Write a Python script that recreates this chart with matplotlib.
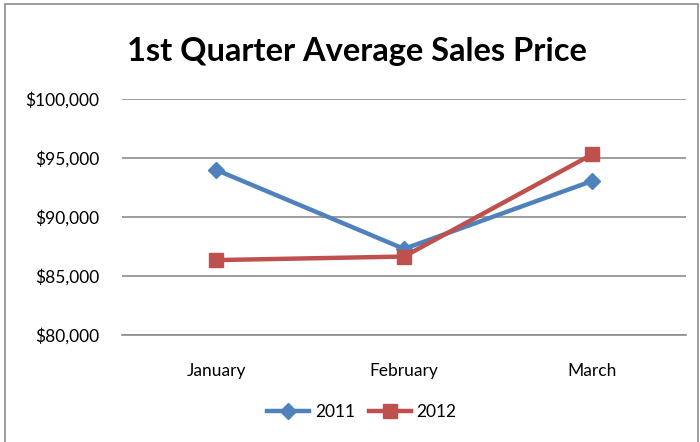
import matplotlib.pyplot as plt
from matplotlib.patches import Rectangle
from matplotlib.ticker import FuncFormatter

# Data
months = ["January", "February", "March"]
sales_2011 = [94000, 87300, 93050]
sales_2012 = [86350, 86650, 95300]
y_ticks = [80000, 85000, 90000, 95000, 100000]

plt.rcParams["font.family"] = ["Lato", "DejaVu Sans"]

fig = plt.figure(figsize=(7, 4.42), dpi=100)
ax = fig.add_axes([0.1743, 0.242, 0.8057, 0.534])

x = range(len(months))
ax.plot(x, sales_2011, color="#4F81BD", lw=3.2, marker="D", ms=8.5, label="2011")
ax.plot(x, sales_2012, color="#C0504D", lw=3.2, marker="s", ms=10, label="2012")

ax.set_xlim(-0.5, 2.5)
ax.set_ylim(80000, 100000)
ax.set_yticks(y_ticks)
ax.yaxis.set_major_formatter(FuncFormatter(lambda v, p: "${:,.0f}".format(v)))
ax.set_xticks(list(x))
ax.set_xticklabels(months)
ax.tick_params(length=0, labelsize=12.5, colors="black")
ax.tick_params(axis="y", pad=16.5)
ax.tick_params(axis="x", pad=20)
ax.grid(axis="y", color="#8c8c8c", lw=1.2)
ax.set_axisbelow(True)
for s in ["top", "right", "left"]:
    ax.spines[s].set_visible(False)
ax.spines["bottom"].set_color("#8c8c8c")
ax.spines["bottom"].set_linewidth(1.2)

fig.text(0.51, 0.883, "1st Quarter Average Sales Price", ha="center", va="center",
         fontsize=23.5, fontweight="bold")

ax.legend(loc="center", bbox_to_anchor=(0.517, 0.068), bbox_transform=fig.transFigure,
          ncol=2, frameon=False, fontsize=12.5, handlelength=2.4, columnspacing=0.8,
          handletextpad=0.35)

# outer chart border
fig.patches.append(Rectangle((5 / 700, -0.02), 693 / 700, 1 - 4 / 442 + 0.02,
                             transform=fig.transFigure, fill=False,
                             edgecolor="#8c8c8c", lw=1.2))

fig.savefig("out.png", dpi=100)
